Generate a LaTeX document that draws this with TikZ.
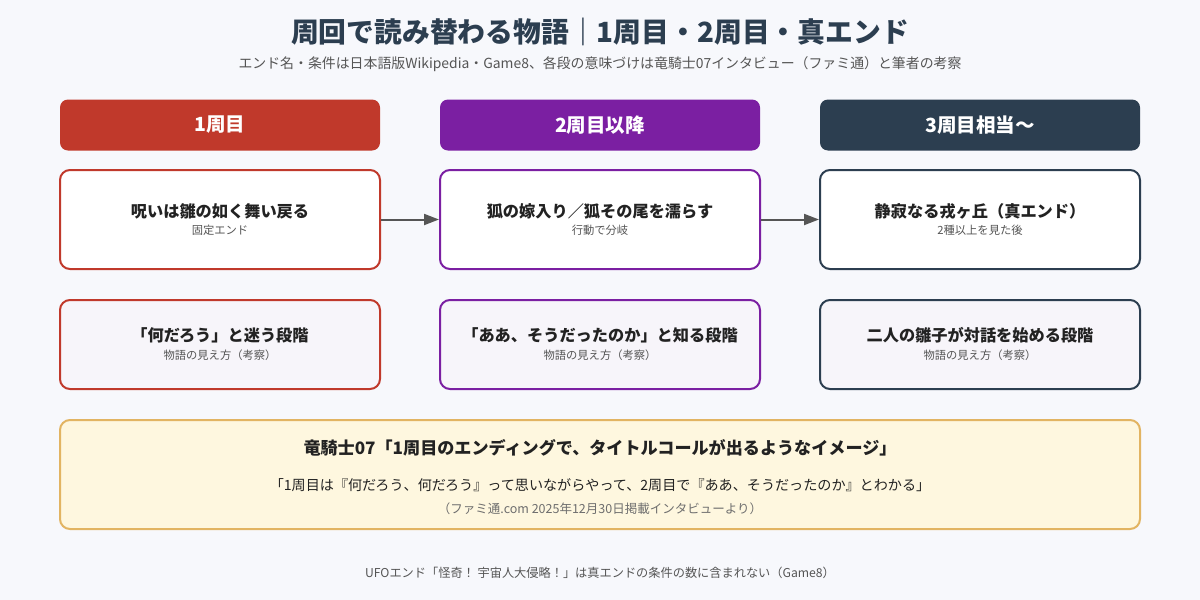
\documentclass[tikz,border=0pt]{standalone}
\usepackage{fontspec}
\setmainfont{Noto Sans CJK JP}
\usetikzlibrary{arrows.meta}
\definecolor{bg}{HTML}{F7F8FC}
\definecolor{cred}{HTML}{C0392B}
\definecolor{cpur}{HTML}{7B1FA2}
\definecolor{cdark}{HTML}{2C3E50}
\definecolor{lilac}{HTML}{F7F5FA}
\definecolor{qfill}{HTML}{FEF7DF}
\definecolor{qedge}{HTML}{E2B462}
\definecolor{txt}{HTML}{222222}
\definecolor{subtxt}{HTML}{555555}
\definecolor{arr}{HTML}{555555}
\tikzset{
  hdr/.style={rounded corners=8pt, minimum width=320pt, minimum height=51pt, inner sep=0pt, text=white, font=\fontsize{19.5}{22}\selectfont\bfseries},
  endbox/.style={draw=#1, line width=2pt, fill=white, rounded corners=10pt, minimum width=320pt, minimum height=99pt, inner sep=0pt},
  viewbox/.style={draw=#1, line width=2pt, fill=lilac, rounded corners=10pt, minimum width=320pt, minimum height=89pt, inner sep=0pt},
  maintxt/.style={text=txt, font=\fontsize{16.2}{19}\selectfont\bfseries, inner sep=0pt},
  subt/.style={text=subtxt, font=\fontsize{11.3}{13}\selectfont, inner sep=0pt},
  conn/.style={draw=arr, line width=2pt, -{Triangle[length=15pt,width=11pt]}}
}
\begin{document}
\begin{tikzpicture}[x=1pt,y=-1pt]
\fill[bg] (0,0) rectangle (1200,600);
\useasboundingbox (0,0) rectangle (1200,600);
\node[text=cdark, font=\fontsize{27.8}{31}\selectfont\bfseries, inner sep=0pt] (title) at (600,32) {周回で読み替わる物語｜1周目・2周目・真エンド};
\node[text=subtxt, font=\fontsize{13.9}{16}\selectfont, inner sep=0pt] (subtitle) at (600,64) {エンド名・条件は日本語版Wikipedia・Game8、各段の意味づけは竜騎士07インタビュー（ファミ通）と筆者の考察};

\node[hdr, fill=cred] (h1) at (220,125) {1周目};
\node[hdr, fill=cpur] (h2) at (600,125) {2周目以降};
\node[hdr, fill=cdark] (h3) at (980,125) {3周目相当〜};

\node[endbox=cred] (e1) at (220,219.5) {};
\node[endbox=cpur] (e2) at (600,219.5) {};
\node[endbox=cdark] (e3) at (980,219.5) {};
\node[maintxt] (e1t) at (220,211) {呪いは雛の如く舞い戻る};
\node[subt] (e1s) at (220,230.5) {固定エンド};
\node[maintxt] (e2t) at (600,211) {狐の嫁入り／狐その尾を濡らす};
\node[subt] (e2s) at (600,230.5) {行動で分岐};
\node[maintxt] (e3t) at (980,211) {静寂なる戎ヶ丘（真エンド）};
\node[subt] (e3s) at (980,230.5) {2種以上を見た後};

\draw[conn] (e1.east) -- (e2.west);
\draw[conn] (e2.east) -- (e3.west);

\node[viewbox=cred] (v1) at (220,344.5) {};
\node[viewbox=cpur] (v2) at (600,344.5) {};
\node[viewbox=cdark] (v3) at (980,344.5) {};
\node[maintxt] (v1t) at (220,335) {「何だろう」と迷う段階};
\node[subt] (v1s) at (220,355) {物語の見え方（考察）};
\node[maintxt] (v2t) at (600,335) {「ああ、そうだったのか」と知る段階};
\node[subt] (v2s) at (600,355) {物語の見え方（考察）};
\node[maintxt] (v3t) at (980,335) {二人の雛子が対話を始める段階};
\node[subt] (v3s) at (980,355) {物語の見え方（考察）};

\node[draw=qedge, line width=2pt, fill=qfill, rounded corners=10pt, minimum width=1080pt, minimum height=109pt, inner sep=0pt] (q) at (600,474.5) {};
\node[text=txt, font=\fontsize{17.1}{20}\selectfont\bfseries, inner sep=0pt] (qt) at (600,448) {竜騎士07「1周目のエンディングで、タイトルコールが出るようなイメージ」};
\node[text=txt, font=\fontsize{14.1}{17}\selectfont, inner sep=0pt] (ql) at (600,485) {「1周目は『何だろう、何だろう』って思いながらやって、2周目で『ああ、そうだったのか』とわかる」};
\node[text=subtxt!85, font=\fontsize{12.5}{14}\selectfont, inner sep=0pt] (qs) at (600,509) {（ファミ通.com 2025年12月30日掲載インタビューより）};

\node[text=subtxt, font=\fontsize{12.2}{14}\selectfont, inner sep=0pt] (foot) at (600,573) {UFOエンド「怪奇！ 宇宙人大侵略！」は真エンドの条件の数に含まれない（Game8）};
\end{tikzpicture}
\end{document}
